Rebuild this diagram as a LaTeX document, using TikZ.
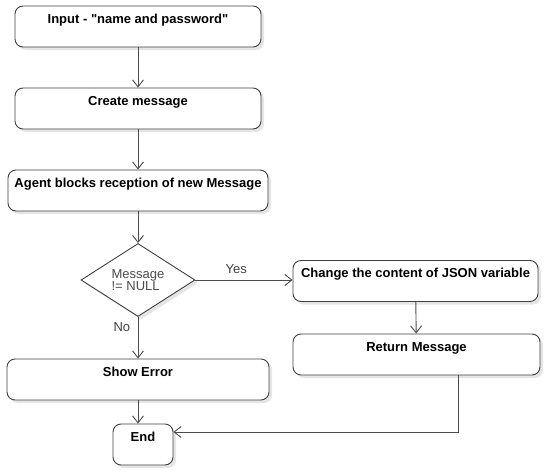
\documentclass[tikz,border=0pt]{standalone}
\usepackage{fontspec}
\setmainfont{Liberation Sans}
\usepackage{tikz}
\usetikzlibrary{arrows.meta,positioning,shapes.geometric,shadows}

\begin{document}
\begin{tikzpicture}[
    x=1pt, y=-1pt,
    sbox/.style={draw=black!75, line width=0.9pt, rounded corners=8pt, fill=white,
                 minimum height=41pt, inner sep=0pt, text height=9.5pt, text depth=15.6pt,
                 font=\fontsize{13}{15}\selectfont\bfseries,
                 drop shadow={shadow xshift=3pt, shadow yshift=-3pt, fill=black!10, opacity=1}},
    dec/.style={draw=black!75, line width=0.9pt, diamond, aspect=1.56, fill=white,
                minimum width=114pt, minimum height=73pt, inner sep=0pt, align=left,
                font=\fontsize{13}{12}\selectfont, text=black!70,
                drop shadow={shadow xshift=3pt, shadow yshift=-3pt, fill=black!10, opacity=1}},
    arr/.style={-{Straight Barb[length=7pt, width=11pt]}, line width=0.9pt, draw=black!70},
    lbl/.style={font=\fontsize{13}{15}\selectfont, text=black!75},
]
\useasboundingbox (0,0) rectangle (550,474);

% Left column
\node[sbox, minimum width=246pt] (input) at (138, 26.5) {Input - \textquotedbl name and password\textquotedbl};
\node[sbox, minimum width=246pt] (create) at (138, 108.5) {Create message};
\node[sbox, minimum width=260pt] (agent) at (138, 190.5) {Agent blocks reception of new Message};
\node[dec] (check) at (138, 280) {Message\\!= NULL};
\node[sbox, minimum width=262pt] (error) at (138, 379.5) {Show Error};
\node[sbox, minimum width=60pt] (finish) at (143, 444.5) {End};

% Right column
\node[sbox, minimum width=245pt] (change) at (415.5, 281) {Change the content of JSON variable};
\node[sbox, minimum width=247pt] (return) at (416.5, 354.5) {Return Message};

\coordinate (turn) at (458, 432);

% Connecting arrows
\draw[arr] (input) -- (create);
\draw[arr] (create) -- (agent);
\draw[arr] (agent) -- (check);
\draw[arr] (check.east) -- node[lbl, above, pos=0.42, yshift=3pt] (yes) {Yes} (check.east -| change.west);
\draw[arr] (check) -- node[lbl, left, pos=0.25, xshift=-4pt] (no) {No} (error);
\draw[arr] (change) -- (return);
\draw[arr] (error.south) -- (error.south |- finish.north);
\draw[arr] (turn |- return.south) -- (turn) -- (finish.east |- turn);
\end{tikzpicture}
\end{document}
